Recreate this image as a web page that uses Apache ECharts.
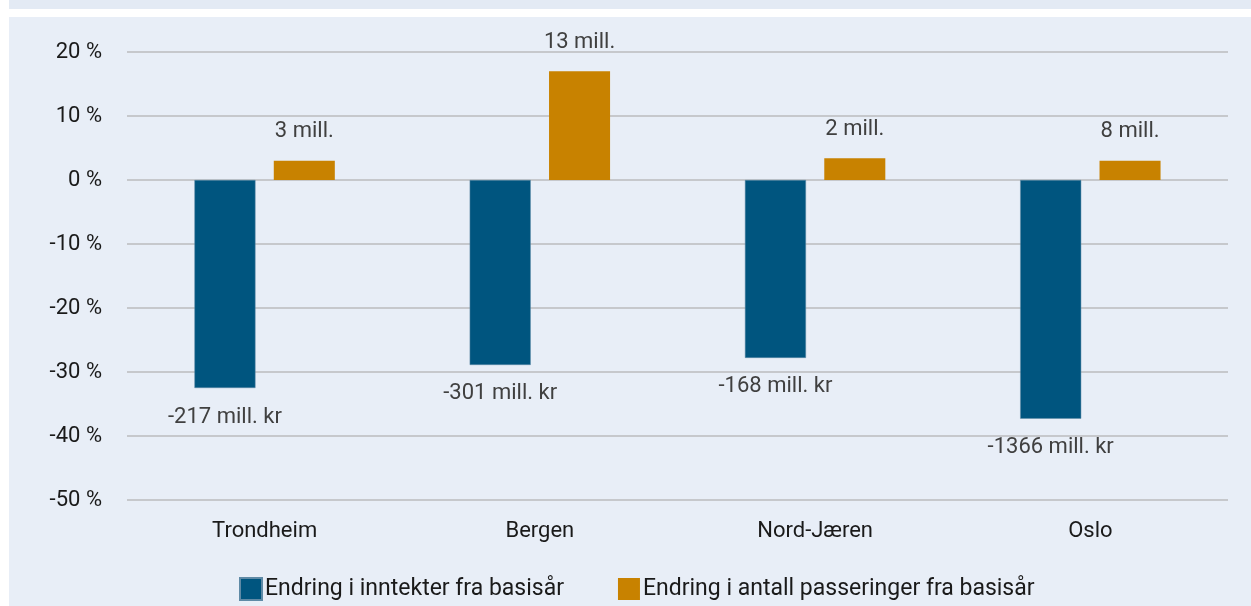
<!DOCTYPE html>
<html lang="no">
<head>
    <meta charset="UTF-8">
    <title>Endring fra basisår</title>
    <script src="https://cdn.jsdelivr.net/npm/echarts@6/dist/echarts.min.js"></script>
    <style type="text/css">
        body { margin: 0; background: #ffffff; }
        .band { position: absolute; left: 9px; top: 0; width: 1242px; height: 9px; background: #e3eaf4; }
        #main { position: absolute; left: 9px; top: 17px; width: 1242px; height: 589px; background: #e8eef7; }
    </style>
</head>
<body>
<div class="band"></div>
<div id="main"></div>
<script type="text/javascript">
    // kategorier og verdier lest av figuren
    var byer = ['Trondheim', 'Bergen', 'Nord-Jæren', 'Oslo'];
    var inntekter = [-32.5, -28.9, -27.8, -37.3];
    var inntektLabels = ['-217 mill. kr', '-301 mill. kr', '-168 mill. kr', '-1366 mill. kr'];
    var passeringer = [3.0, 17.0, 3.4, 3.0];
    var passeringLabels = ['3 mill.', '13 mill.', '2 mill.', '8 mill.'];

    var fontFam = 'Roboto, "DejaVu Sans", sans-serif';
    var myChart = echarts.init(document.getElementById('main'));

    var option = {
        animation: false,
        textStyle: { fontFamily: fontFam },
        grid: { left: 118, top: 35, width: 1101, height: 448, containLabel: false },
        legend: {
            left: 225,
            top: 555,
            itemWidth: 22,
            itemHeight: 22,
            itemGap: 54,
            icon: 'rect',
            textStyle: { fontSize: 23, color: '#1a1a1a', fontFamily: fontFam, padding: [0, 0, 0, -2] },
            data: ['Endring i inntekter fra basisår', 'Endring i antall passeringer fra basisår']
        },
        xAxis: {
            type: 'category',
            data: byer,
            axisLine: { show: false },
            axisTick: { show: false },
            axisLabel: { fontSize: 22, color: '#1a1a1a', margin: 20, fontFamily: fontFam }
        },
        yAxis: {
            type: 'value',
            min: -50,
            max: 20,
            interval: 10,
            axisLabel: { formatter: '{value} %', fontSize: 22, color: '#1a1a1a', margin: 25, fontFamily: fontFam },
            splitLine: { lineStyle: { color: '#c6c8cc', width: 2 } }
        },
        series: [
            {
                name: 'Endring i inntekter fra basisår',
                type: 'bar',
                data: inntekter,
                barGap: '30%',
                barCategoryGap: '49%',
                itemStyle: { color: '#00557f', borderColor: '#5f8aa6', borderWidth: 0.5 },
                label: {
                    show: true,
                    position: 'bottom',
                    distance: 18,
                    fontSize: 22,
                    color: '#404040',
                    fontFamily: fontFam,
                    formatter: function (p) { return inntektLabels[p.dataIndex]; }
                }
            },
            {
                name: 'Endring i antall passeringer fra basisår',
                type: 'bar',
                data: passeringer,
                itemStyle: { color: '#c88200' },
                label: {
                    show: true,
                    position: 'top',
                    distance: 18,
                    fontSize: 22,
                    color: '#404040',
                    fontFamily: fontFam,
                    formatter: function (p) { return passeringLabels[p.dataIndex]; }
                }
            }
        ]
    };
    myChart.setOption(option);
</script>
</body>
</html>
